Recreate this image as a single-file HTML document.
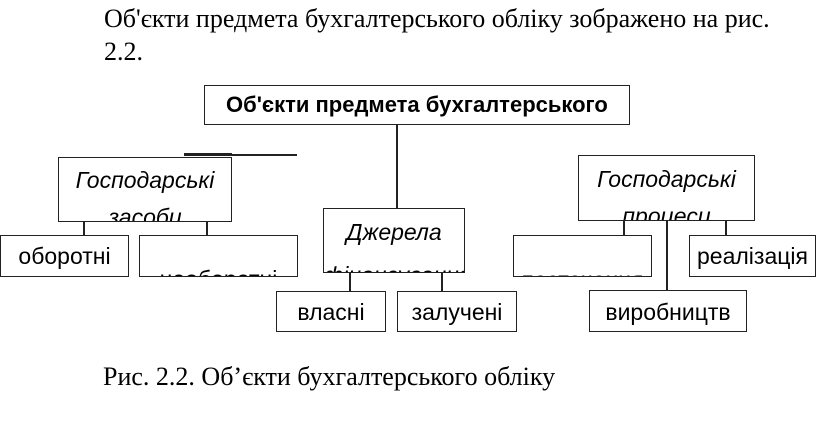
<!DOCTYPE html>
<html><head><meta charset="utf-8"><style>
body{margin:0;width:816px;height:421px;background:#fff;position:relative;overflow:hidden;font-family:"Liberation Sans",sans-serif;color:#000}
.t{position:absolute;font-family:"Liberation Serif",serif;font-size:26px;white-space:nowrap;line-height:1}
.b{position:absolute;border:1.5px solid #222;box-sizing:border-box;overflow:hidden;background:#fff}
.b span{position:absolute;left:0;right:0;text-align:center;white-space:nowrap;font-size:23px;line-height:1}
.i{font-style:italic}
.l{position:absolute;background:#222}
</style></head><body>
<div class="t" style="left:104px;top:6px">Об'єкти предмета бухгалтерського обліку зображено на рис.</div>
<div class="t" style="left:104px;top:39px">2.2.</div>
<div class="t" style="left:103px;top:364px">Рис. 2.2. Об’єкти бухгалтерського обліку</div>

<div class="b" style="left:204px;top:85px;width:426px;height:40px"><span style="top:8px;left:21px;text-align:left;font-weight:bold;font-size:22px">Об'єкти предмета бухгалтерського</span></div>
<div class="l" style="left:396px;top:124px;width:1.5px;height:84px"></div>
<div class="l" style="left:184px;top:154px;width:113px;height:1.5px"></div>
<div class="l" style="left:184px;top:153px;width:48px;height:2px"></div>

<div class="b" style="left:58px;top:157px;width:174px;height:65px"><span class="i" style="top:11px">Господарські</span><span class="i" style="top:48px">засоби</span></div>
<div class="l" style="left:83px;top:221px;width:1.5px;height:14px"></div>
<div class="l" style="left:206px;top:221px;width:1.5px;height:14px"></div>
<div class="b" style="left:0px;top:235px;width:129px;height:42px"><span style="top:9px">оборотні</span></div>
<div class="b" style="left:139px;top:235px;width:159px;height:42px"><span style="top:32px">необоротні</span></div>

<div class="b" style="left:323px;top:208px;width:142px;height:65px"><span class="i" style="top:12px">Джерела</span><span class="i" style="top:55px">фінансування</span></div>
<div class="l" style="left:349px;top:272px;width:1.5px;height:19px"></div>
<div class="l" style="left:441px;top:272px;width:1.5px;height:19px"></div>
<div class="b" style="left:276px;top:291px;width:110px;height:41px"><span style="top:9px">власні</span></div>
<div class="b" style="left:397px;top:291px;width:120px;height:41px"><span style="top:9px">залучені</span></div>

<div class="b" style="left:578px;top:155px;width:177px;height:66px"><span class="i" style="top:12px">Господарські</span><span class="i" style="top:49px">процеси</span></div>
<div class="l" style="left:623px;top:220px;width:1.5px;height:15px"></div>
<div class="l" style="left:666px;top:220px;width:1.5px;height:70px"></div>
<div class="l" style="left:725px;top:220px;width:1.5px;height:15px"></div>
<div class="b" style="left:513px;top:235px;width:139px;height:42px"><span style="top:33px">постачання</span></div>
<div class="b" style="left:689px;top:235px;width:127px;height:42px"><span style="top:9px">реалізація</span></div>
<div class="b" style="left:589px;top:290px;width:158px;height:42px"><span style="top:10px">виробництв</span></div>
</body></html>
